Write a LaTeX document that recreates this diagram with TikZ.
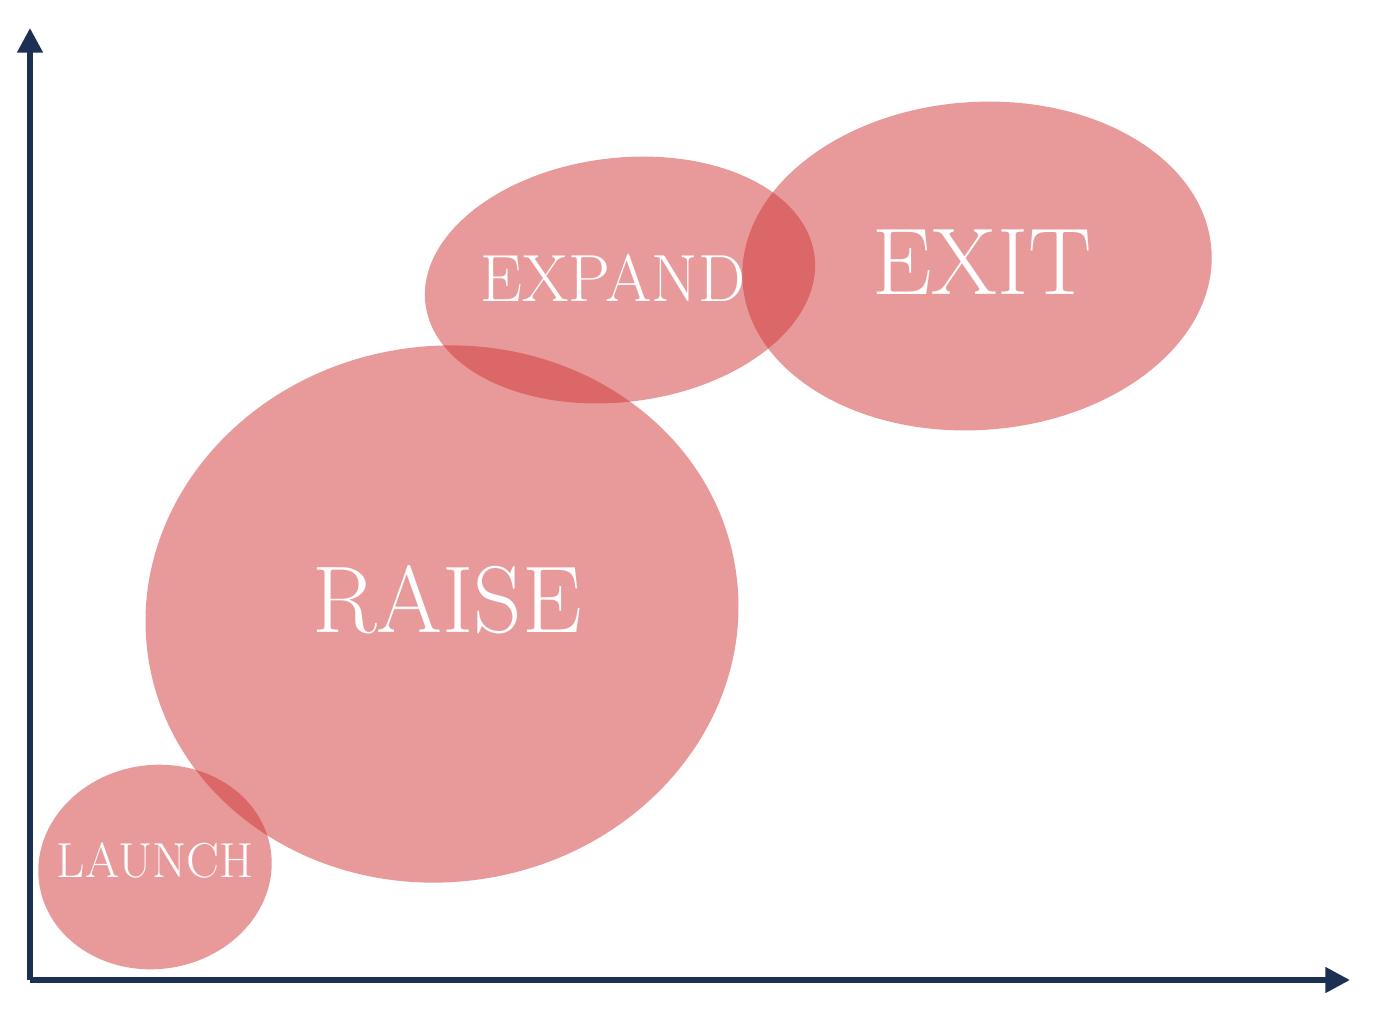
\documentclass[tikz,border=0pt]{standalone}
\usetikzlibrary{arrows.meta}
\definecolor{stageRed}{RGB}{209,53,55}
\definecolor{axisNavy}{RGB}{27,48,82}
\tikzset{
  stage/.style = {fill = stageRed, fill opacity = 0.5, draw = none},
  stagelabel/.style = {text = white, font = #1},
  axis/.style = {draw = axisNavy, line width = 3.2pt, -{Triangle[length = 14pt, width = 14pt]}}
}
\begin{document}
\begin{tikzpicture}[x = 0.02cm, y = -0.02cm]
				\useasboundingbox (0, 0) rectangle (1377, 1009);
				\coordinate (O) at (30, 980);
				\coordinate (ytop) at (30, 28);
				\coordinate (xend) at (1350, 980);
				\fill[stage, rotate around = {8:(155, 867)}] (155, 867) ellipse [x radius = 117, y radius = 102];
				\fill[stage, rotate around = {8:(442, 614)}] (442, 614) ellipse [x radius = 297, y radius = 268];
				\fill[stage, rotate around = {7:(620, 280)}] (620, 280) ellipse [x radius = 196, y radius = 122];
				\fill[stage, rotate around = {4:(977, 266)}] (977, 266) ellipse [x radius = 235, y radius = 164];
				\node[stagelabel = \fontsize{28}{28}\selectfont] (launch) at (155, 860) {LAUNCH};
				\node[stagelabel = \fontsize{54}{54}\selectfont] (raise) at (447, 600) {RAISE};
				\node[stagelabel = \fontsize{38}{38}\selectfont] (expand) at (613, 278) {EXPAND};
				\node[stagelabel = \fontsize{54}{54}\selectfont] (exit) at (982, 262) {EXIT};
				\draw[axis] (O) -- (ytop);
				\draw[axis] (O) -- (xend);
\end{tikzpicture}
\end{document}
